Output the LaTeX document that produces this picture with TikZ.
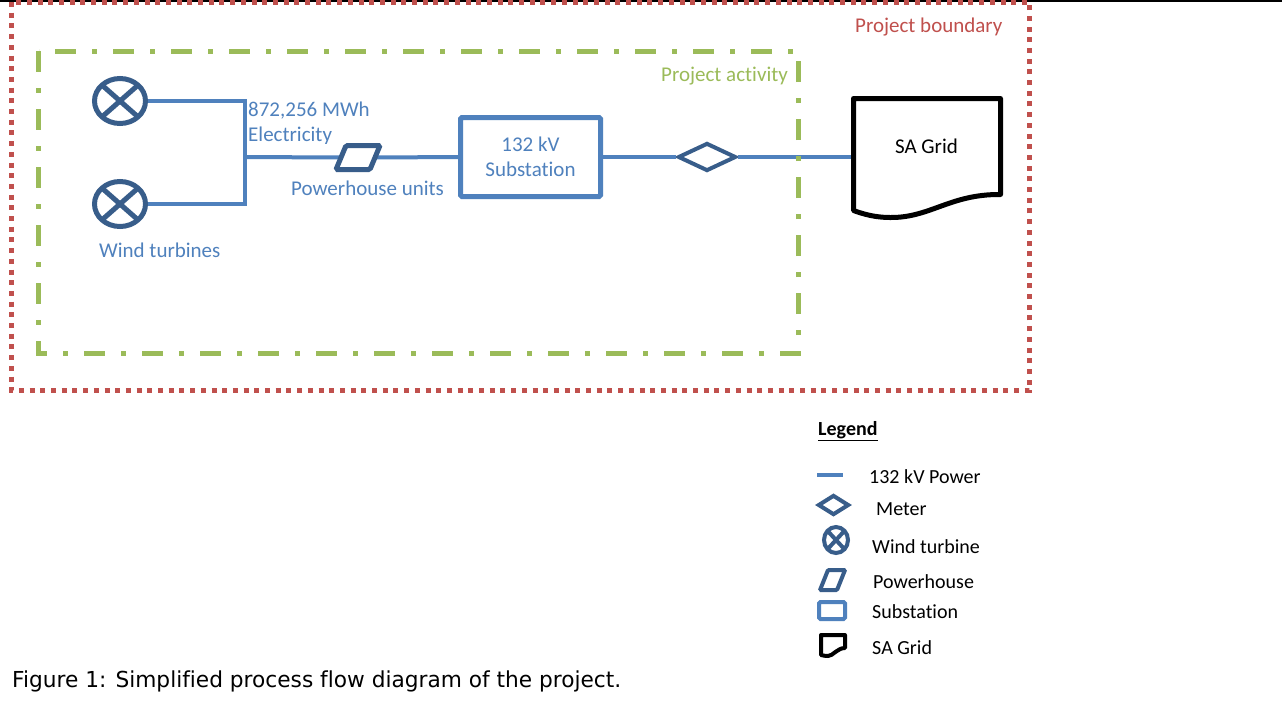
\documentclass[tikz,border=0pt]{standalone}
\usepackage{fontspec}
\usepackage{graphicx}
\setmainfont{Carlito}[Ligatures=NoCommon]
\newfontfamily\capfont{DejaVu Sans}[Ligatures=NoCommon]
\usetikzlibrary{shapes.geometric}
\definecolor{pblue}{RGB}{79,129,189}
\definecolor{dblue}{RGB}{56,93,138}
\definecolor{pgreen}{RGB}{155,187,89}
\definecolor{pred}{RGB}{192,80,77}
\tikzset{
  pline/.style={draw=pblue, line width=4pt},
  redb/.style={draw=pred, line width=5pt, dash pattern=on 5pt off 5.7pt},
  greenb/.style={draw=pgreen, line width=5pt, dash pattern=on 21pt off 16pt on 5pt off 16pt},
  lbl/.style={font=\fontsize{21}{25}\selectfont, inner sep=0pt, anchor=base west},
  leglbl/.style={font=\fontsize{20}{24}\selectfont, inner sep=0pt, anchor=base west},
  turb/.style={ellipse, draw=dblue, fill=white, line width=#1, inner sep=0pt,
    path picture={\draw[dblue, line width=#1]
      (path picture bounding box.north west) -- (path picture bounding box.south east)
      (path picture bounding box.north east) -- (path picture bounding box.south west);}},
}
\begin{document}
\begin{tikzpicture}[x=1pt, y=-1pt]
\useasboundingbox (0,0) rectangle (1282,721);
\fill[white] (0,0) rectangle (1282,721);
\draw[black, line width=2pt] (0,1) -- (1282,1);

% wind turbines
\node[turb=5pt, minimum width=51pt, minimum height=45pt] (t1) at (120,101) {};
\node[turb=5pt, minimum width=51pt, minimum height=45pt] (t2) at (120,204) {};
\coordinate (j1) at (245,101);
\coordinate (j2) at (245,204);
\coordinate (j3) at (245,157);

% powerhouse anchor box
\node[minimum width=34pt, minimum height=24pt, inner sep=0pt, outer sep=0pt] (ph) at (358,157.5) {};
% substation
\node[draw=pblue, line width=5pt, minimum width=140pt, minimum height=79pt, rounded corners=1.5pt,
      inner sep=0pt, align=center, text=pblue, font=\fontsize{21}{25}\selectfont] (sub) at (530.5,157) {132 kV\\Substation};
% meter
\node[diamond, draw=dblue, fill=white, line width=4pt, minimum width=58pt, minimum height=28pt, inner sep=0pt] (meter) at (707,157) {};
% grid anchor box
\node[minimum width=147pt, minimum height=110pt, inner sep=0pt, outer sep=0pt] (grid) at (927,153.75) {};

% connectors
\draw[pline] (t1.east) -- (j1) -- (j2) -- (t2.east);
\draw[pline] (j3) -- (ph.west);
\draw[pline] (ph.east) -- (sub.west);
\draw[pline] (sub.east) -- (meter.west);
\draw[pline] (meter.east) -- (meter.east -| grid.west);

% powerhouse shape
\draw[dblue, line width=5pt, fill=white, rounded corners=1.5pt] (346,145.5) -- (380,145.5) -- (370,169.5) -- (336,169.5) -- cycle;
% SA grid shape
\draw[black, line width=5pt, line join=round, fill=white] (853.5,98.5) -- (1000.5,98.5) -- (1000.5,194.5)
  .. controls (950,194) and (930,218) .. (890,217.5)
  .. controls (875,217.5) and (863,214) .. (853.5,210.5) -- cycle;
\node[lbl, anchor=base] (gridtxt) at (926.5,153) {SA Grid};

% labels
\node[lbl, text=pblue] (mwh) at (248,116) {872,256 MWh};
\begin{scope}
\clip (240,120) rectangle (340,143.5);
\node[lbl, text=pblue] (elec) at (248,141.7) {Electricity};
\end{scope}
\node[lbl, text=pblue] (phl) at (291,195.5) {Powerhouse units};
\node[lbl, text=pblue] (wtl) at (99,257) {Wind turbines};

% boundaries
\draw[greenb] (38.5,51) rectangle (798.5,353.5);
\draw[redb] (11.5,2) rectangle (1029.5,390.5);
\node[lbl, text=pred] (pb) at (855,32) {Project boundary};
\node[lbl, text=pgreen] (pa) at (661,81.5) {Project activity};

% legend
\node[leglbl, font=\bfseries\fontsize{20}{24}\selectfont] (leg) at (818,435) {\underline{Legend}};
\draw[pblue, line width=4pt] (817,475) -- (843,475);
\node[diamond, draw=dblue, line width=4pt, minimum width=31pt, minimum height=20pt, inner sep=0pt] (lmeter) at (833.5,505) {};
\node[turb=4pt, minimum width=24pt, minimum height=26pt] (lturb) at (836,540) {};
\draw[dblue, line width=4pt, rounded corners=1pt] (828,570) -- (845,570) -- (837,590) -- (820,590) -- cycle;
\draw[pblue, line width=4pt, rounded corners=1.5pt] (819,602) rectangle (845,619);
\draw[black, line width=4pt, line join=round] (821,635) -- (845,635) -- (845,648)
  .. controls (837,648) and (833,656) .. (828,656) .. controls (825,656) and (823,655.5) .. (821,655) -- cycle;
\node[leglbl] (l1) at (869,483) {132 kV Power};
\node[leglbl] (l2) at (876,515) {Meter};
\node[leglbl] (l3) at (872,553) {Wind turbine};
\node[leglbl] (l4) at (873,588) {Powerhouse};
\node[leglbl] (l5) at (872,618) {Substation};
\node[leglbl] (l6) at (872,654) {SA Grid};

% caption
\node[anchor=base west, inner sep=0pt, font=\capfont\fontsize{22}{26}\selectfont] (cap) at (12,687)
  {\resizebox{609pt}{\height}{Figure 1: Simplified process flow diagram of the project.}};
\end{tikzpicture}
\end{document}
